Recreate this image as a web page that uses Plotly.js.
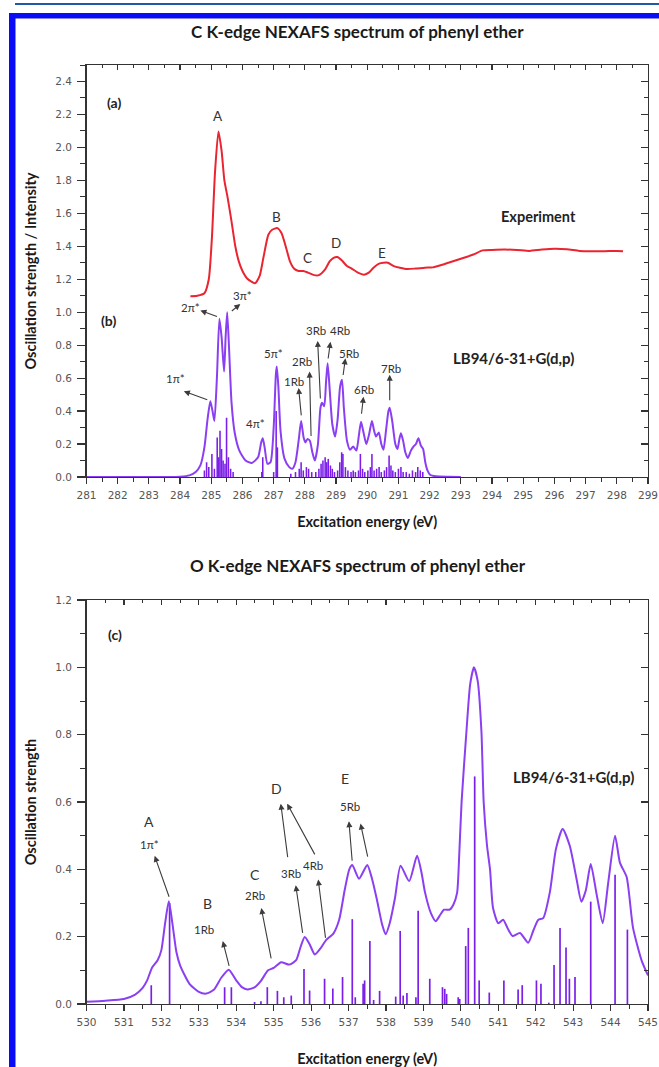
<!DOCTYPE html>
<html>
<head>
<meta charset="utf-8">
<script src="https://cdn.plot.ly/plotly-3.0.1.min.js"></script>
<style>
  html, body { margin: 0; padding: 0; background: #ffffff; }
  #chart { width: 659px; height: 1067px; }
</style>
</head>
<body>
<div id="chart"></div>
<script>
// ---------- C K-edge: experiment (a) ----------
const expEnergy = [284.33, 284.55, 284.78, 284.92, 285.02, 285.12, 285.23, 285.33, 285.42, 285.52,
  285.65, 285.77, 285.88, 286.00, 286.15, 286.40, 286.55, 286.67, 286.83, 286.95,
  287.12, 287.25, 287.40, 287.52, 287.65, 287.80, 287.95, 288.10, 288.30, 288.45,
  288.65, 288.80, 288.92, 289.04, 289.18, 289.35, 289.50, 289.70, 289.90, 290.05,
  290.20, 290.38, 290.52, 290.66, 290.85, 291.05, 291.28, 291.55, 291.85, 292.10,
  292.35, 292.60, 292.85, 293.10, 293.40, 293.70, 294.00, 294.40, 294.80, 295.20,
  295.60, 296.00, 296.40, 296.80, 297.20, 297.60, 298.00, 298.20];
const expIntensity = [1.097, 1.100, 1.115, 1.200, 1.450, 1.850, 2.097, 1.980, 1.800, 1.700,
  1.550, 1.400, 1.310, 1.250, 1.205, 1.176, 1.220, 1.330, 1.470, 1.500,
  1.510, 1.480, 1.390, 1.310, 1.265, 1.250, 1.250, 1.240, 1.225, 1.225,
  1.260, 1.310, 1.330, 1.335, 1.315, 1.280, 1.265, 1.240, 1.228, 1.240,
  1.270, 1.295, 1.300, 1.300, 1.280, 1.270, 1.262, 1.265, 1.270, 1.272,
  1.285, 1.300, 1.315, 1.330, 1.350, 1.375, 1.378, 1.380, 1.378, 1.372,
  1.380, 1.385, 1.382, 1.372, 1.370, 1.370, 1.372, 1.370];

// ---------- C K-edge: LB94 calculation (b) ----------
const cCurveEnergy = [281.0, 283.0, 284.0, 284.3, 284.5, 284.65, 284.78, 284.88, 284.97, 285.04,
  285.10, 285.18, 285.26, 285.33, 285.41, 285.46, 285.51, 285.57, 285.65, 285.75,
  285.90, 286.10, 286.30, 286.50, 286.60, 286.65, 286.71, 286.80, 286.90, 287.00,
  287.07, 287.10, 287.15, 287.22, 287.35, 287.50, 287.60, 287.70, 287.80, 287.88,
  287.96, 288.02, 288.08, 288.16, 288.24, 288.32, 288.42, 288.50, 288.55, 288.62,
  288.68, 288.73, 288.80, 288.88, 288.97, 289.05, 289.13, 289.19, 289.25, 289.35,
  289.45, 289.55, 289.65, 289.73, 289.80, 289.88, 289.97, 290.06, 290.15, 290.22,
  290.28, 290.37, 290.45, 290.52, 290.60, 290.68, 290.72, 290.80, 290.90, 290.97,
  291.03, 291.08, 291.15, 291.22, 291.30, 291.40, 291.48, 291.56, 291.64, 291.72,
  291.79, 291.86, 291.93, 292.02, 292.20, 292.60, 293.00];
const cCurveStrength = [0.000, 0.000, 0.002, 0.010, 0.030, 0.070, 0.180, 0.350, 0.460, 0.400,
  0.340, 0.600, 0.960, 0.850, 0.640, 0.850, 1.000, 0.780, 0.450, 0.270,
  0.160, 0.100, 0.085, 0.120, 0.210, 0.235, 0.180, 0.080, 0.090, 0.300,
  0.620, 0.670, 0.550, 0.280, 0.110, 0.060, 0.050, 0.090, 0.220, 0.340,
  0.240, 0.210, 0.230, 0.220, 0.150, 0.100, 0.200, 0.420, 0.450, 0.430,
  0.580, 0.690, 0.520, 0.320, 0.245, 0.350, 0.550, 0.590, 0.420, 0.220,
  0.165, 0.185, 0.160, 0.250, 0.335, 0.270, 0.200, 0.260, 0.340, 0.280,
  0.245, 0.270, 0.200, 0.165, 0.280, 0.400, 0.420, 0.340, 0.200, 0.170,
  0.230, 0.265, 0.220, 0.150, 0.115, 0.160, 0.185, 0.200, 0.235, 0.190,
  0.170, 0.090, 0.040, 0.012, 0.004, 0.001, 0.000];
const cStickEnergy = [284.78, 284.85, 284.92, 285.02, 285.10, 285.19, 285.24, 285.28, 285.33, 285.38,
  285.44, 285.49, 285.55, 285.62, 285.70, 286.62, 286.65, 287.00, 287.08, 287.12,
  287.55, 287.70, 287.82, 287.88, 287.95, 288.05, 288.12, 288.22, 288.35, 288.45,
  288.52, 288.58, 288.65, 288.70, 288.75, 288.82, 288.88, 288.95, 289.05, 289.12,
  289.18, 289.22, 289.30, 289.38, 289.48, 289.55, 289.62, 289.72, 289.78, 289.85,
  289.92, 290.02, 290.10, 290.15, 290.22, 290.30, 290.38, 290.45, 290.55, 290.62,
  290.70, 290.76, 290.82, 290.90, 291.00, 291.08, 291.15, 291.25, 291.35, 291.45,
  291.55, 291.62, 291.70, 291.78];
const cStickStrength = [0.04, 0.09, 0.06, 0.14, 0.05, 0.24, 0.12, 0.28, 0.17, 0.10,
  0.08, 0.36, 0.12, 0.05, 0.03, 0.03, 0.12, 0.03, 0.40, 0.18,
  0.02, 0.03, 0.05, 0.09, 0.04, 0.06, 0.05, 0.03, 0.03, 0.05,
  0.08, 0.10, 0.12, 0.09, 0.11, 0.07, 0.05, 0.03, 0.04, 0.09,
  0.15, 0.14, 0.06, 0.04, 0.03, 0.04, 0.03, 0.04, 0.14, 0.05,
  0.03, 0.04, 0.06, 0.14, 0.04, 0.05, 0.06, 0.03, 0.04, 0.06,
  0.13, 0.07, 0.04, 0.03, 0.05, 0.06, 0.03, 0.03, 0.02, 0.04,
  0.03, 0.06, 0.04, 0.03];

// ---------- O K-edge: LB94 calculation (c) ----------
const oCurveEnergy = [530.0, 530.5, 531.0, 531.3, 531.5, 531.62, 531.75, 531.9, 532.0, 532.1,
  532.2, 532.3, 532.4, 532.5, 532.75, 533.0, 533.2, 533.4, 533.6, 533.8,
  534.0, 534.15, 534.3, 534.5, 534.65, 534.85, 535.0, 535.2, 535.42, 535.6,
  535.72, 535.83, 535.95, 536.1, 536.25, 536.4, 536.6, 536.75, 536.9, 537.02,
  537.1, 537.28, 537.5, 537.62, 537.75, 537.9, 537.99, 538.1, 538.24, 538.39,
  538.62, 538.83, 538.95, 539.04, 539.2, 539.33, 539.45, 539.55, 539.7, 539.8,
  539.9, 539.96, 540.02, 540.15, 540.25, 540.35, 540.45, 540.55, 540.61, 540.7,
  540.78, 540.86, 541.0, 541.13, 541.25, 541.38, 541.58, 541.8, 541.93, 542.07,
  542.2, 542.38, 542.54, 542.72, 542.91, 543.09, 543.22, 543.34, 543.47, 543.63,
  543.79, 543.94, 544.12, 544.25, 544.43, 544.6, 544.83, 545.0];
const oCurveStrength = [0.007, 0.010, 0.015, 0.028, 0.048, 0.070, 0.108, 0.130, 0.160, 0.240,
  0.305, 0.235, 0.155, 0.115, 0.060, 0.036, 0.031, 0.042, 0.078, 0.102,
  0.070, 0.050, 0.043, 0.050, 0.067, 0.100, 0.107, 0.124, 0.117, 0.130,
  0.170, 0.199, 0.180, 0.147, 0.165, 0.190, 0.210, 0.250, 0.340, 0.400,
  0.413, 0.372, 0.413, 0.375, 0.314, 0.235, 0.207, 0.240, 0.314, 0.411,
  0.365, 0.440, 0.390, 0.333, 0.270, 0.246, 0.265, 0.280, 0.280, 0.295,
  0.330, 0.450, 0.600, 0.810, 0.950, 1.000, 0.960, 0.810, 0.600, 0.470,
  0.400, 0.285, 0.240, 0.250, 0.225, 0.202, 0.211, 0.182, 0.216, 0.250,
  0.255, 0.333, 0.460, 0.520, 0.470, 0.372, 0.304, 0.338, 0.416, 0.324,
  0.240, 0.363, 0.500, 0.420, 0.377, 0.226, 0.129, 0.085];
const oStickEnergy = [531.73, 532.22, 533.69, 533.87, 534.49, 534.66, 534.83, 535.10, 535.27, 535.47,
  535.81, 535.96, 536.36, 536.58, 536.84, 537.10, 537.18, 537.39, 537.43, 537.57,
  537.67, 537.83, 538.26, 538.38, 538.46, 538.56, 538.80, 538.86, 539.17, 539.51,
  539.57, 539.62, 539.93, 539.97, 540.13, 540.20, 540.37, 540.49, 540.76, 541.15,
  541.53, 541.64, 542.02, 542.14, 542.35, 542.49, 542.65, 542.81, 542.90, 543.05,
  543.47, 544.12, 544.45];
const oStickStrength = [0.056, 0.300, 0.050, 0.050, 0.006, 0.008, 0.050, 0.039, 0.020, 0.025,
  0.104, 0.040, 0.075, 0.046, 0.080, 0.252, 0.020, 0.060, 0.070, 0.187,
  0.012, 0.039, 0.022, 0.217, 0.025, 0.033, 0.020, 0.277, 0.075, 0.050,
  0.045, 0.030, 0.020, 0.015, 0.172, 0.226, 0.676, 0.070, 0.034, 0.070,
  0.043, 0.056, 0.070, 0.060, 0.004, 0.116, 0.226, 0.168, 0.075, 0.080,
  0.304, 0.384, 0.221];

// ---------- peak assignments ----------
// C K-edge: label text, label position, arrow head, arrow tail (null = no arrow)
const cPeakLabels = ['1π*', '2π*', '3π*', '4π*', '5π*', '1Rb', '2Rb', '3Rb', '4Rb', '5Rb', '6Rb', '7Rb'];
const cLabelX = [283.85, 284.33, 285.99, 286.41, 287.00, 287.64, 287.91, 288.37, 289.13, 289.42, 289.88, 290.76];
const cLabelY = [0.598, 1.03, 1.10, 0.325, 0.75, 0.58, 0.70, 0.89, 0.89, 0.75, 0.53, 0.66];
const cHeadX = [284.12, 284.65, 285.93, null, null, 287.80, 288.15, 288.41, 288.82, 289.30, 289.88, 290.72];
const cHeadY = [0.52, 1.01, 1.05, null, null, 0.54, 0.64, 0.826, 0.82, 0.72, 0.487, 0.62];
const cTailX = [284.92, 285.23, 285.61, null, null, 287.89, 288.20, 288.50, 288.74, 289.22, 289.81, 290.72];
const cTailY = [0.466, 0.97, 1.00, null, null, 0.365, 0.24, 0.467, 0.71, 0.61, 0.375, 0.456];
const expPeakLabels = ['A', 'B', 'C', 'D', 'E'];
const expLabelX = [285.20, 287.09, 288.10, 289.00, 290.48];
const expLabelY = [2.19, 1.58, 1.33, 1.42, 1.36];

// O K-edge
const oPeakLabels = ['A', '1π*', 'B', '1Rb', 'C', '2Rb', '3Rb', '4Rb', 'D', 'E', '5Rb'];
const oLabelX = [531.67, 531.68, 533.24, 533.15, 534.49, 534.49, 535.45, 536.04, 535.07, 536.90, 537.03];
const oLabelY = [0.543, 0.475, 0.300, 0.221, 0.384, 0.322, 0.389, 0.410, 0.640, 0.670, 0.587];
const oLabelBig = [true, false, true, false, true, false, false, false, true, true, false];
const oHeadX = [531.82, 533.64, 534.67, 535.59, 536.19, 535.19, 535.36, 537.01, 537.32];
const oHeadY = [0.440, 0.187, 0.285, 0.353, 0.370, 0.595, 0.595, 0.543, 0.536];
const oTailX = [532.22, 533.82, 534.94, 535.78, 536.39, 535.38, 536.12, 537.10, 537.52];
const oTailY = [0.314, 0.109, 0.131, 0.207, 0.192, 0.432, 0.440, 0.421, 0.433];

// ---------- styling ----------
const W = 659, H = 1067;
const RED = '#ea2430';
const VIOLET = '#8b3ff2';
const STICK = '#7a1ee8';
const AXIS = '#333333';
const SANS = 'Lato, "Open Sans", sans-serif';
const TICKFONT = { family: '"DejaVu Sans", Verdana, sans-serif', size: 10.5, color: '#555555' };
const LABEL = '#333333';

const xDom = [86.5 / W, 648 / W];
const y1Dom = [1 - 477 / H, 1 - 65 / H];
const y2Dom = [1 - 1004 / H, 1 - 600 / H];

function mainX(range, anchor, title, standoff) {
  return {
    domain: xDom, range: range, anchor: anchor, dtick: 1, tick0: 0,
    showgrid: false, zeroline: false, showline: true, linecolor: AXIS, linewidth: 1.4,
    ticks: 'outside', ticklen: 6, tickwidth: 1.2, tickcolor: AXIS, tickfont: TICKFONT,
    ticklabelstandoff: 2,
    minor: { dtick: 0.5, ticks: 'outside', ticklen: 3.5, tickwidth: 1, tickcolor: AXIS, showgrid: false },
    title: { text: title, font: { family: SANS, size: 14.5, color: '#1a1a1a', weight: 'bold' }, standoff: standoff }
  };
}
function mainY(range, dom, anchor, title) {
  return {
    domain: dom, range: range, anchor: anchor, dtick: 0.2, tick0: 0, tickformat: '.1f',
    showgrid: false, zeroline: false, showline: true, linecolor: AXIS, linewidth: 1.4,
    ticks: 'outside', ticklen: 8, tickwidth: 1.2, tickcolor: AXIS, tickfont: TICKFONT,
    ticklabelstandoff: 3,
    minor: { dtick: 0.1, ticks: 'outside', ticklen: 5, tickwidth: 1, tickcolor: AXIS, showgrid: false },
    title: { text: title, font: { family: SANS, size: 14.5, color: '#1a1a1a', weight: 'bold' }, standoff: 15 }
  };
}
function mirrorX(range, over, anchor) {
  return {
    overlaying: over, side: 'top', anchor: anchor, range: range, dtick: 1, tick0: 0,
    showgrid: false, zeroline: false, showline: true, linecolor: AXIS, linewidth: 1.4,
    ticks: 'inside', ticklen: 5, tickwidth: 1.2, tickcolor: AXIS, showticklabels: false,
    minor: { dtick: 0.5, ticks: 'inside', ticklen: 3, tickwidth: 1, tickcolor: AXIS, showgrid: false }
  };
}
function mirrorY(range, over, anchor) {
  return {
    overlaying: over, side: 'right', anchor: anchor, range: range, dtick: 0.2, tick0: 0,
    showgrid: false, zeroline: false, showline: true, linecolor: AXIS, linewidth: 1.4,
    ticks: 'inside', ticklen: 7, tickwidth: 1.2, tickcolor: AXIS, showticklabels: false,
    minor: { dtick: 0.1, ticks: 'inside', ticklen: 4, tickwidth: 1, tickcolor: AXIS, showgrid: false }
  };
}

const cRange = [281, 299], cYRange = [0, 2.5];
const oRange = [530, 545], oYRange = [0, 1.2];

const traces = [
  { type: 'bar', x: cStickEnergy, y: cStickStrength, width: 0.05, xaxis: 'x', yaxis: 'y',
    marker: { color: STICK, line: { width: 0 } }, hoverinfo: 'skip', showlegend: false },
  { type: 'scatter', mode: 'lines', x: cCurveEnergy, y: cCurveStrength, xaxis: 'x', yaxis: 'y',
    line: { color: VIOLET, width: 2, shape: 'spline', smoothing: 0.6 }, showlegend: false },
  { type: 'scatter', mode: 'lines', x: expEnergy, y: expIntensity, xaxis: 'x', yaxis: 'y',
    line: { color: RED, width: 2, shape: 'spline', smoothing: 0.6 }, showlegend: false },
  { type: 'bar', x: oStickEnergy, y: oStickStrength, width: 0.045, xaxis: 'x2', yaxis: 'y2',
    marker: { color: STICK, line: { width: 0 } }, hoverinfo: 'skip', showlegend: false },
  { type: 'scatter', mode: 'lines', x: oCurveEnergy, y: oCurveStrength, xaxis: 'x2', yaxis: 'y2',
    line: { color: VIOLET, width: 2, shape: 'spline', smoothing: 0.6 }, showlegend: false },
  // empty traces that carry the framed top/right axes
  { type: 'scatter', mode: 'lines', x: [null], y: [null], xaxis: 'x3', yaxis: 'y3', showlegend: false, hoverinfo: 'skip' },
  { type: 'scatter', mode: 'lines', x: [null], y: [null], xaxis: 'x4', yaxis: 'y4', showlegend: false, hoverinfo: 'skip' }
];

const annotations = [];
function text(xref, yref, x, y, t, size, bold, color) {
  annotations.push({ xref: xref, yref: yref, x: x, y: y, text: t, showarrow: false,
    xanchor: 'center', yanchor: 'middle',
    font: { family: SANS, size: size, color: color || LABEL, weight: bold ? 'bold' : 'normal' } });
}
function arrow(xref, yref, hx, hy, tx, ty) {
  annotations.push({ xref: xref, yref: yref, axref: xref, ayref: yref, x: hx, y: hy, ax: tx, ay: ty,
    text: '', showarrow: true, arrowhead: 2, arrowsize: 1.1, arrowwidth: 1.1, arrowcolor: '#3c3c3c' });
}

// panel titles
text('paper', 'paper', 358 / W, 1 - 31 / H, 'C K-edge NEXAFS spectrum of phenyl ether', 17, true, '#1a1a1a');
text('paper', 'paper', 358 / W, 1 - 565 / H, 'O K-edge NEXAFS spectrum of phenyl ether', 17, true, '#1a1a1a');

// C K-edge panel
text('x', 'y', 281.87, 2.275, '(a)', 14, true, '#222');
text('x', 'y', 281.71, 0.95, '(b)', 14, true, '#222');
text('x', 'y', 295.5, 1.58, 'Experiment', 14.5, true, '#222');
text('x', 'y', 294.7, 0.72, 'LB94/6-31+G(d,p)', 15, true, '#222');
expPeakLabels.forEach((t, i) => text('x', 'y', expLabelX[i], expLabelY[i], t, 13.5, false));
cPeakLabels.forEach((t, i) => {
  text('x', 'y', cLabelX[i], cLabelY[i], t, 11.5, false);
  if (cHeadX[i] !== null) arrow('x', 'y', cHeadX[i], cHeadY[i], cTailX[i], cTailY[i]);
});

// O K-edge panel
text('x2', 'y2', 530.75, 1.098, '(c)', 14, true, '#222');
text('x2', 'y2', 543.0, 0.675, 'LB94/6-31+G(d,p)', 15, true, '#222');
oPeakLabels.forEach((t, i) => text('x2', 'y2', oLabelX[i], oLabelY[i], t, oLabelBig[i] ? 14 : 11.5, false));
oHeadX.forEach((hx, i) => arrow('x2', 'y2', hx, oHeadY[i], oTailX[i], oTailY[i]));

// blue page frame
const shapes = [
  { type: 'rect', xref: 'paper', yref: 'paper', x0: 15 / W, x1: 1, y0: 1 - 5 / H, y1: 1 - 3 / H,
    fillcolor: '#1f5aa8', line: { width: 0 } },
  { type: 'rect', xref: 'paper', yref: 'paper', x0: 9 / W, x1: 1, y0: 1 - 18.5 / H, y1: 1 - 13 / H,
    fillcolor: '#0a0cf5', line: { width: 0 } },
  { type: 'rect', xref: 'paper', yref: 'paper', x0: 9 / W, x1: 15.5 / W, y0: 0, y1: 1 - 13 / H,
    fillcolor: '#0a0cf5', line: { width: 0 } }
];

const layout = {
  width: W, height: H,
  margin: { l: 0, r: 0, t: 0, b: 0 },
  paper_bgcolor: '#ffffff', plot_bgcolor: '#ffffff',
  showlegend: false, bargap: 0.2,
  xaxis: mainX(cRange, 'y', 'Excitation energy (eV)', 17),
  yaxis: mainY(cYRange, y1Dom, 'x', 'Oscillation strength / Intensity'),
  xaxis2: mainX(oRange, 'y2', 'Excitation energy (eV)', 27),
  yaxis2: mainY(oYRange, y2Dom, 'x2', 'Oscillation strength'),
  xaxis3: mirrorX(cRange, 'x', 'y'),
  yaxis3: mirrorY(cYRange, 'y', 'x'),
  xaxis4: mirrorX(oRange, 'x2', 'y2'),
  yaxis4: mirrorY(oYRange, 'y2', 'x2'),
  annotations: annotations,
  shapes: shapes
};

Plotly.newPlot('chart', traces, layout, { staticPlot: true, displayModeBar: false });
</script>
</body>
</html>
